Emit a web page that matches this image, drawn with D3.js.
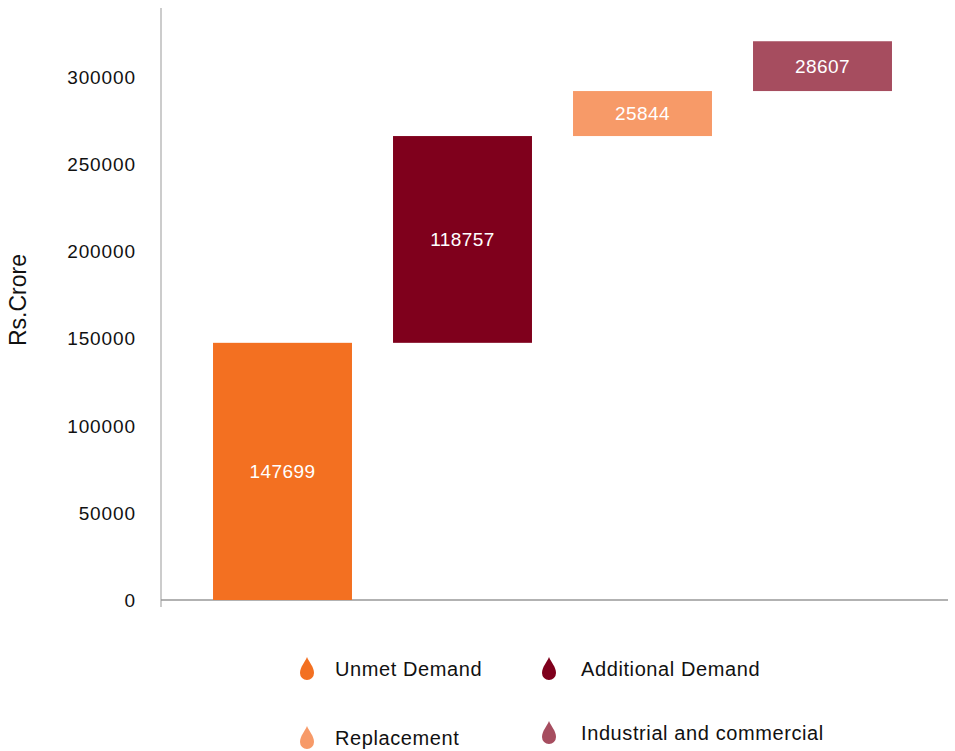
<!DOCTYPE html>
<html>
<head>
<meta charset="utf-8">
<script src="https://cdn.jsdelivr.net/npm/d3@7"></script>
<style>
body{margin:0;background:#fff;}
text{font-family:"Liberation Sans",Arial,Helvetica,sans-serif;}
</style>
</head>
<body>
<div id="plot"></div>
<script>
// data
var categories = ['Unmet Demand','Additional Demand','Replacement','Industrial and commercial'];
var values = [147699, 118757, 25844, 28607];
var colors = ['#F37021','#7F001C','#F79A68','#A64D5F'];
var yTicks = [0,50000,100000,150000,200000,250000,300000];

var width = 955, height = 751;
var svg = d3.select('#plot').append('svg')
    .attr('width',width)
    .attr('height',height);

// running totals for waterfall
var bars = [];
var run = 0;
values.forEach(function(v,i){
    bars.push({name:categories[i], v:v, y0:run, y1:run+v, color:colors[i]});
    run += v;
});

var y = d3.scaleLinear().domain([0,340000]).range([600,8]);
var x = d3.scaleBand().domain(categories).range([192.5,912.5]).paddingInner(0.228).paddingOuter(0.114);

// axes lines
svg.append('line').attr('x1',161).attr('x2',161).attr('y1',8).attr('y2',607)
    .attr('stroke','#999').attr('stroke-width',1);
svg.append('line').attr('x1',161).attr('x2',948).attr('y1',600).attr('y2',600)
    .attr('stroke','#999').attr('stroke-width',1.5);

// y tick labels
svg.selectAll('.tick').data(yTicks).enter().append('text')
    .attr('x',136).attr('y',function(d){return y(d);})
    .attr('dy','0.35em')
    .attr('text-anchor','end')
    .style('font-size','19px').style('letter-spacing','0.9px').style('fill','#111')
    .text(function(d){return d;});

svg.append('text')
    .attr('transform','translate(26,300) rotate(-90)')
    .attr('text-anchor','middle')
    .style('font-size','23px').style('fill','#111')
    .text('Rs.Crore');

// bars
svg.selectAll('.bar').data(bars).enter().append('rect')
    .attr('x',function(d){return x(d.name);})
    .attr('width',x.bandwidth())
    .attr('y',function(d){return y(d.y1);})
    .attr('height',function(d){return y(d.y0)-y(d.y1);})
    .style('fill',function(d){return d.color;});

svg.selectAll('.lbl').data(bars).enter().append('text')
    .attr('x',function(d){return x(d.name)+x.bandwidth()/2;})
    .attr('y',function(d){return (y(d.y0)+y(d.y1))/2;})
    .attr('dy','0.35em')
    .attr('text-anchor','middle')
    .style('font-size','19px').style('letter-spacing','0.4px').style('fill','#fff')
    .text(function(d){return d.v;});

// legend with drop icons
var legPos = [[307,669],[549,669],[307,738],[549,733]];
function drop(cx,cy){
    // teardrop pointing up, bottom circle radius 7
    var r = 7;
    return 'M'+cx+','+(cy-16)+
        ' C'+(cx+2)+','+(cy-11)+' '+(cx+r)+','+(cy-6)+' '+(cx+r)+','+cy+
        ' A'+r+','+r+' 0 0 1 '+(cx-r)+','+cy+
        ' C'+(cx-r)+','+(cy-6)+' '+(cx-2)+','+(cy-11)+' '+cx+','+(cy-16)+'Z';
}
var leg = svg.selectAll('.leg').data(bars).enter().append('g');
leg.append('path')
    .attr('d',function(d,i){return drop(legPos[i][0],legPos[i][1]+4);})
    .style('fill',function(d){return d.color;});
leg.append('text')
    .attr('x',function(d,i){return legPos[i][0]+(i%2==0?28:32);})
    .attr('y',function(d,i){return legPos[i][1];})
    .attr('dy','0.35em')
    .style('font-size','20px').style('letter-spacing','0.6px').style('fill','#111')
    .text(function(d){return d.name;});
</script>
</body>
</html>
